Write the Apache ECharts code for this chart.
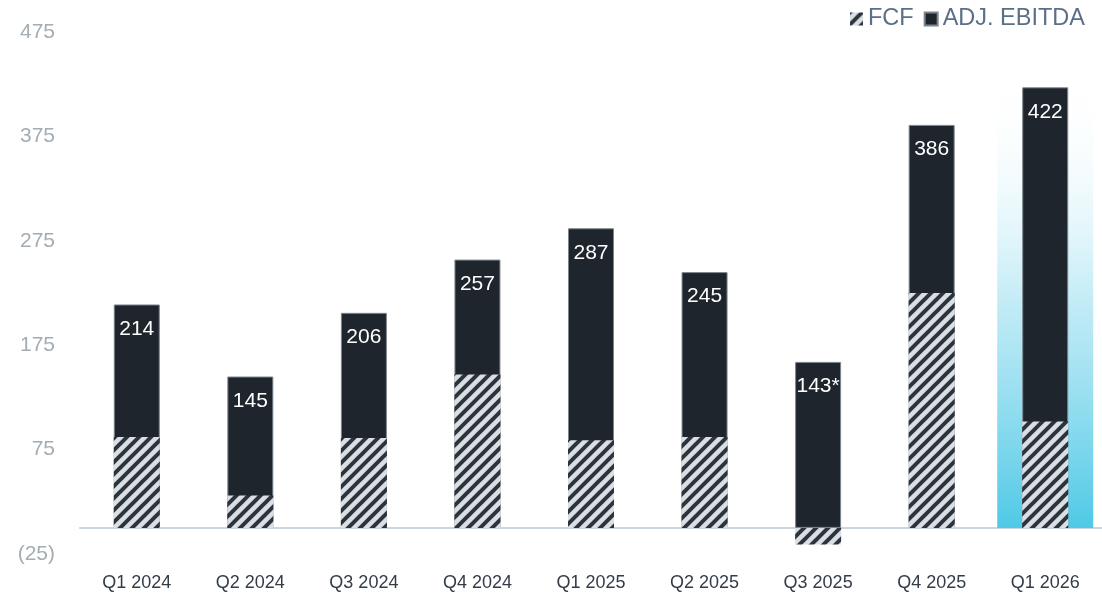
<!DOCTYPE html>
<html>
<head>
<meta charset="utf-8">
<script src="https://cdn.jsdelivr.net/npm/echarts@6/dist/echarts.min.js"></script>
<style>
html,body{margin:0;padding:0;background:#fff;}
#chart{width:1102px;height:598px;}
</style>
</head>
<body>
<div id="chart"></div>
<script>
const categories = ['Q1 2024','Q2 2024','Q3 2024','Q4 2024','Q1 2025','Q2 2025','Q3 2025','Q4 2025','Q1 2026'];
const ebitda = [214,145,206,257,287,245,159,386,422];
const ebitdaLabels = ['214','145','206','257','287','245','143*','386','422'];
const fcf = [87,31,86,147,84,87,-16,225,102];
const highlight = [null,null,null,null,null,null,null,null,432];

function hatch(){
  const c = document.createElement('canvas');
  const s = 12;
  c.width = s; c.height = s;
  const g = c.getContext('2d');
  g.fillStyle = '#dcdfe2';
  g.fillRect(0,0,s,s);
  g.strokeStyle = '#2a3540';
  g.lineWidth = 4;
  g.beginPath();
  g.moveTo(0,s); g.lineTo(s,0);
  g.moveTo(-s/2,s/2); g.lineTo(s/2,-s/2);
  g.moveTo(s/2,s*1.5); g.lineTo(s*1.5,s/2);
  g.stroke();
  return c;
}

const chart = echarts.init(document.getElementById('chart'));
const font = '"Liberation Sans", Arial, sans-serif';
chart.setOption({
  animation:false,
  textStyle:{fontFamily:font},
  legend:{
    right:12, top:2, itemWidth:13, itemHeight:13, itemGap:10, icon:'rect',
    textStyle:{color:'#5b6f88', fontSize:23.5, fontFamily:font},
    data:['FCF','ADJ. EBITDA']
  },
  grid:{left:80, right:0, top:32, bottom:44, containLabel:false, outerBoundsMode:'none'},
  xAxis:[{
    type:'category', data:categories,
    axisLine:{onZero:true, lineStyle:{color:'#cdd5de', width:2}},
    axisTick:{show:false},
    axisLabel:{color:'#333c47', fontSize:18, margin:20, fontFamily:font}
  },{
    type:'category', data:categories, show:false
  }],
  yAxis:{
    type:'value', min:-25, max:475, interval:100,
    axisLine:{show:false}, axisTick:{show:false}, splitLine:{show:false},
    axisLabel:{color:'#a3adb3', fontSize:21, margin:25, align:'right', fontFamily:font,
      formatter:v => v < 0 ? '(' + Math.abs(v) + ')' : String(v)}
  },
  series:[
    {
      name:'hl', type:'bar', xAxisIndex:1, data:highlight, barWidth:96, silent:true,
      itemStyle:{color:new echarts.graphic.LinearGradient(0,0,0,1,[
        {offset:0,color:'rgba(255,255,255,0)'},
        {offset:0.5,color:'rgba(120,212,236,0.45)'},
        {offset:1,color:'#4fc9e6'}
      ])},
      z:1
    },
    {
      name:'ADJ. EBITDA', type:'bar', data:ebitda, barWidth:46, barGap:'-100%',
      itemStyle:{color:'#1e252d', borderColor:'#7d868e', borderWidth:1},
      label:{show:true, position:'insideTop', distance:14, color:'#ffffff', fontSize:21, fontFamily:font,
        formatter:p => ebitdaLabels[p.dataIndex]},
      z:2
    },
    {
      name:'FCF', type:'bar', data:fcf, barWidth:46, barGap:'-100%',
      itemStyle:{color:{image:hatch(), repeat:'repeat'}},
      z:3
    }
  ]
});
</script>
</body>
</html>
